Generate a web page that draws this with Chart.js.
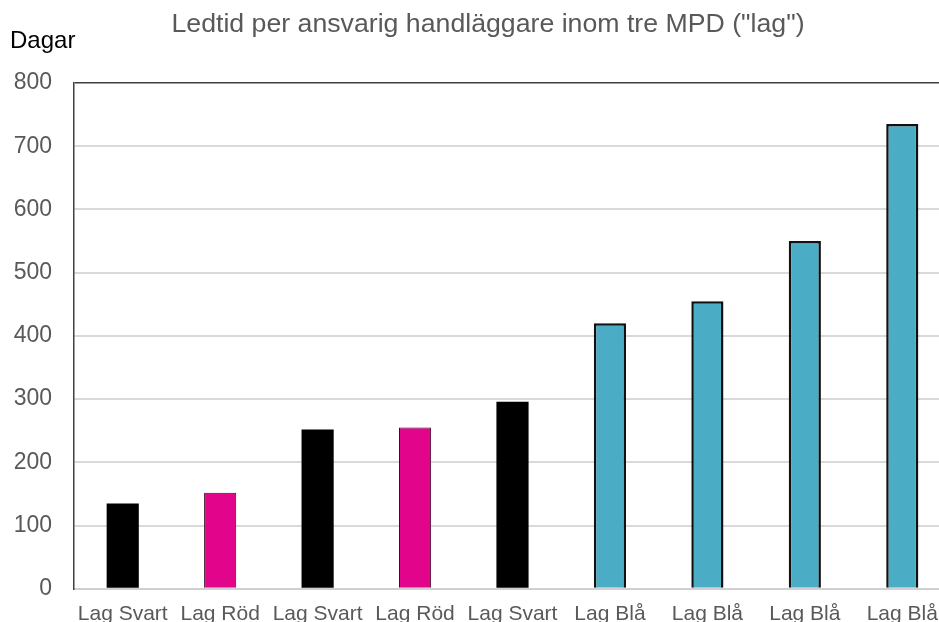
<!DOCTYPE html>
<html>
<head>
<meta charset="utf-8">
<script src="https://cdn.jsdelivr.net/npm/chart.js@4/dist/chart.umd.min.js"></script>
<style>
  html, body { margin: 0; padding: 0; overflow: hidden; background: #fff; width: 939px; height: 622px; }
  #wrap { position: relative; width: 960px; height: 640px; }
</style>
</head>
<body>
<div id="wrap"><canvas id="c" width="960" height="640"></canvas></div>
<script>
// Teams (one bar per responsible case officer)
const categories = ['Lag Svart', 'Lag Röd', 'Lag Svart', 'Lag Röd', 'Lag Svart', 'Lag Blå', 'Lag Blå', 'Lag Blå', 'Lag Blå'];
// Lead time in days
const leadTimeDays = [135, 152, 252, 255, 296, 420, 455, 550, 735];
// Team colours
const barColors = ['#000000', '#E2058C', '#000000', '#E2058C', '#000000', '#4BACC6', '#4BACC6', '#4BACC6', '#4BACC6'];
const barBorders = ['#000000', '#3a0a24', '#000000', '#3a0a24', '#000000', '#111111', '#111111', '#111111', '#111111'];
const barBorderWidths = [0, 1, 0, 1, 0, 2.5, 2.5, 2.5, 2.5];
// Y axis
const yMin = 0, yMax = 800, yStep = 100;
const titleText = 'Ledtid per ansvarig handläggare inom tre MPD ("lag")';
const unitText = 'Dagar';

const FONT = '"Liberation Sans", Arial, sans-serif';

const headerText = {
  id: 'headerText',
  afterDraw(chart) {
    const ctx = chart.ctx;
    ctx.save();
    ctx.textBaseline = 'middle';
    ctx.font = '26.7px ' + FONT;
    ctx.fillStyle = '#595959';
    ctx.textAlign = 'center';
    ctx.fillText(titleText, 488, 25);
    ctx.font = '24px ' + FONT;
    ctx.fillStyle = '#000000';
    ctx.textAlign = 'left';
    ctx.fillText(unitText, 10, 41);
    ctx.restore();
  }
};

new Chart(document.getElementById('c'), {
  type: 'bar',
  data: {
    labels: categories,
    datasets: [{
      data: leadTimeDays,
      backgroundColor: barColors,
      borderColor: barBorders,
      borderWidth: barBorderWidths,
      borderSkipped: 'bottom',
      barPercentage: 0.33,
      categoryPercentage: 1.0
    }]
  },
  options: {
    responsive: false,
    animation: false,
    layout: { padding: { top: 83, left: 0, right: 9, bottom: 0 } },
    plugins: {
      legend: { display: false },
      title: { display: false },
      tooltip: { enabled: false }
    },
    scales: {
      x: {
        grid: { display: false, drawTicks: false },
        border: { display: true, color: '#d0d0d0', width: 2 },
        ticks: { color: '#595959', font: { family: FONT, size: 21 }, padding: 13, maxRotation: 0, autoSkip: false }
      },
      y: {
        min: yMin,
        max: yMax,
        afterFit: (scale) => { scale.width = 74; },
        ticks: { stepSize: yStep, color: '#595959', font: { family: FONT, size: 23 }, padding: 22 },
        grid: {
          drawTicks: false,
          color: (c) => c.tick && c.tick.value === yMax ? '#404040' : '#d9d9d9',
          lineWidth: (c) => c.tick && c.tick.value === yMax ? 1.5 : 2
        },
        border: { display: true, color: '#404040', width: 1.5 }
      }
    }
  },
  plugins: [headerText]
});
</script>
</body>
</html>
